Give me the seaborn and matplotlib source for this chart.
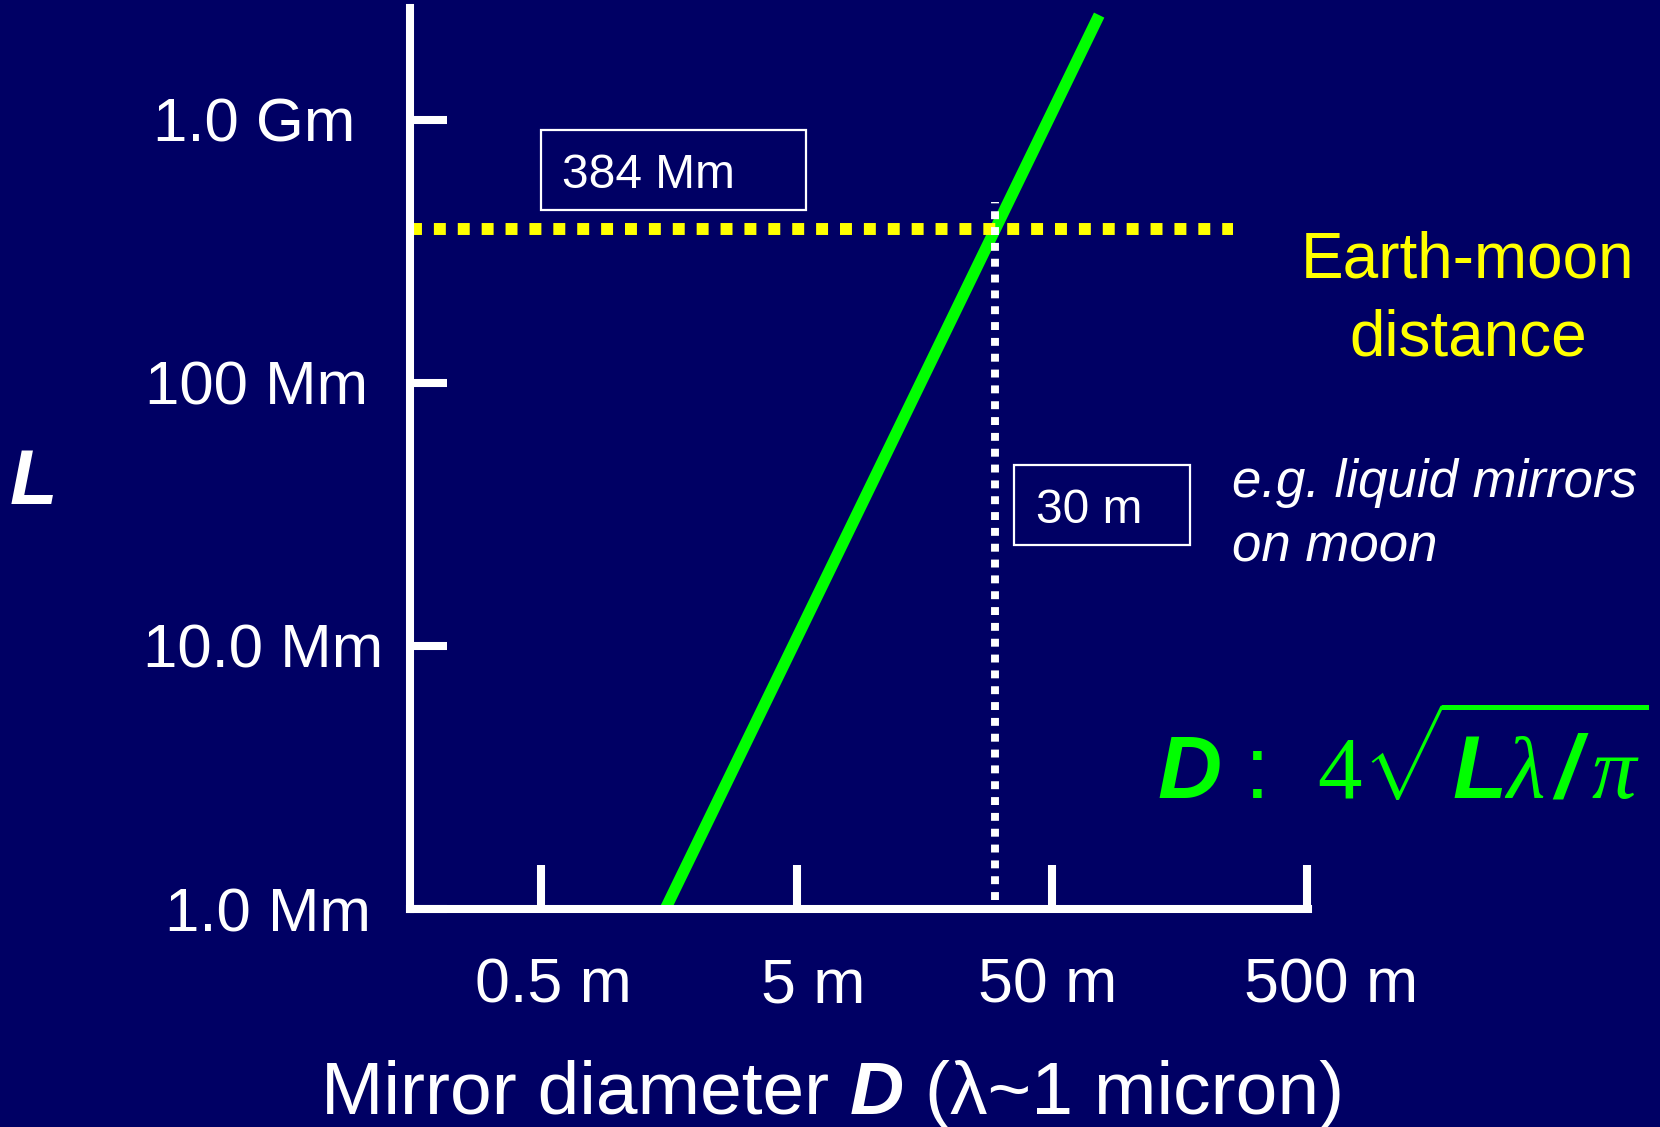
import matplotlib
matplotlib.use("Agg")
import matplotlib.pyplot as plt
from matplotlib.patches import Rectangle
from matplotlib.transforms import IdentityTransform, ScaledTranslation
from matplotlib.ticker import NullLocator, FixedLocator
import seaborn as sns

# Diffraction-limited mirror size D ~ 4 sqrt(L lambda / pi), lambda ~ 1 micron
line_D_m = [1.53, 76.5]       # mirror diameter at the ends of the green line
line_L_m = [1.0e6, 2.5e9]     # distance L at those ends
moon_L_m = 384e6              # Earth-moon distance
moon_D_m = 30                 # mirror diameter needed at that distance

x_ticks = [0.5, 5, 50, 500]
x_ticklabels = ["0.5 m", "5 m", "50 m", "500 m"]
y_ticks = [1e6, 1e7, 1e8, 1e9]
y_ticklabels = ["1.0 Mm", "10.0 Mm", "100 Mm", "1.0 Gm"]

BG = "#000064"
GREEN = "#00ff00"
YELLOW = "#ffff00"
W, H, DPI = 1660, 1127, 100

sns.set_style("white", {"axes.facecolor": BG, "figure.facecolor": BG,
                        "axes.edgecolor": "white",
                        "xtick.bottom": True, "ytick.left": True})
plt.rcParams["font.family"] = ["Liberation Sans", "DejaVu Sans"]
plt.rcParams["mathtext.fontset"] = "custom"
plt.rcParams["mathtext.rm"] = "Liberation Serif"
plt.rcParams["mathtext.it"] = "Liberation Serif:italic"
plt.rcParams["mathtext.bf"] = "Liberation Sans:bold:italic"
plt.rcParams["mathtext.sf"] = "Liberation Sans"

fig = plt.figure(figsize=(W / DPI, H / DPI), dpi=DPI, facecolor=BG)
ax = fig.add_axes([410 / W, 1 - 909 / H, (1308 - 410) / W, (909 - 8) / H])
ax.set_facecolor(BG)
ax.set_xscale("log")
ax.set_yscale("log")
ax.set_xlim(0.153, 503)
ax.set_ylim(1e6, 2.66e9)

# green scaling line
sns.lineplot(x=line_D_m, y=line_L_m, color=GREEN, linewidth=8.3, ax=ax,
             solid_capstyle="butt", clip_on=False)

# Earth-moon distance (yellow) and the matching mirror size (white)
ax.axhline(moon_L_m, xmin=0, xmax=0.916, color=YELLOW, linewidth=8.6,
           linestyle=(0, (1, 1)), dash_capstyle="butt")
ax.axvline(moon_D_m, ymin=0.01, ymax=0.785, color="white", linewidth=5.7,
           linestyle=(0, (1, 1)), dash_capstyle="butt")

# axes styling
for side in ("top", "right"):
    ax.spines[side].set_visible(False)
for side in ("left", "bottom"):
    ax.spines[side].set_color("white")
    ax.spines[side].set_linewidth(5.8)
    ax.spines[side].set_capstyle("projecting")

ax.xaxis.set_major_locator(FixedLocator(x_ticks))
ax.yaxis.set_major_locator(FixedLocator(y_ticks))
ax.xaxis.set_minor_locator(NullLocator())
ax.yaxis.set_minor_locator(NullLocator())
ax.set_xticklabels(x_ticklabels)
ax.set_yticklabels(y_ticklabels)
ax.tick_params(axis="x", bottom=True, direction="in", length=31.5, width=5.8,
               color="white", labelsize=45, labelcolor="white", pad=34)
ax.tick_params(axis="y", left=True, direction="in", length=26.5, width=5.8,
               color="white", labelsize=44.5, labelcolor="white", pad=106)

# small hand-set nudges of the tick labels (pixels)
x_label_shift = [12, 17, -4, 24]
y_label_shift = [5, 0, -6, -9]
for lab, dx in zip(ax.get_xticklabels(), x_label_shift):
    lab.set_transform(lab.get_transform()
                      + ScaledTranslation(dx / DPI, 0, fig.dpi_scale_trans))
for lab, dx in zip(ax.get_yticklabels(), y_label_shift):
    lab.set_horizontalalignment("center")
    lab.set_transform(lab.get_transform()
                      + ScaledTranslation(dx / DPI, 0, fig.dpi_scale_trans))

ident = IdentityTransform()


def at(x, y_img):
    """Display coordinates from an x / top-down y pixel pair."""
    return x, H - y_img


# value boxes attached to the dotted lines
hx, hy = ax.transData.transform((moon_D_m, moon_L_m))
box1_left, box1_bottom = 541, hy + 19
fig.add_artist(Rectangle((box1_left, box1_bottom), 265, 80, transform=ident,
                         fill=False, edgecolor="white", linewidth=1.6))
fig.text(box1_left + 21, box1_bottom + 22, "384 Mm", transform=ident,
         fontsize=34.5, color="white", ha="left", va="baseline")

box2_left, box2_top = hx + 19, H - 465
fig.add_artist(Rectangle((box2_left, box2_top - 80), 176, 80, transform=ident,
                         fill=False, edgecolor="white", linewidth=1.6))
fig.text(box2_left + 22, box2_top - 58, "30 m", transform=ident,
         fontsize=34.5, color="white", ha="left", va="baseline")

# side annotations
fig.text(*at(1468, 278), "Earth-moon", transform=ident, fontsize=46,
         color=YELLOW, ha="center", va="baseline")
fig.text(*at(1468, 355), "distance", transform=ident, fontsize=46,
         color=YELLOW, ha="center", va="baseline")
fig.text(*at(1232, 497), "e.g. liquid mirrors", transform=ident, fontsize=38,
         fontstyle="italic", color="white", ha="left", va="baseline")
fig.text(*at(1232, 562), "on moon", transform=ident, fontsize=38,
         fontstyle="italic", color="white", ha="left", va="baseline")

# scaling law
fig.text(*at(1157, 799),
         r"$\mathbf{D}\,\mathsf{:}\;\;4\sqrt{\mathbf{L}\lambda\,\mathbf{/}\,\pi}$",
         transform=ident, fontsize=64, color=GREEN, ha="left", va="baseline")

# axis titles
fig.text(*at(33, 504), "L", transform=ident, fontsize=56, fontweight="bold",
         fontstyle="italic", color="white", ha="center", va="baseline")

t1 = fig.text(*at(321, 1114), "Mirror diameter", transform=ident, fontsize=54,
              color="white", ha="left", va="baseline")
t2 = ax.annotate("D", xy=(1, 0), xycoords=t1, xytext=(15, 0),
                 textcoords="offset points", fontsize=54, fontweight="bold",
                 fontstyle="italic", color="white", ha="left", va="bottom")
t3 = ax.annotate("(\u03bb~1 micron)", xy=(1, 0), xycoords=t2, xytext=(15, 0),
                 textcoords="offset points", fontsize=54, color="white",
                 ha="left", va="bottom")

fig.savefig("out.png", dpi=DPI, facecolor=BG)
